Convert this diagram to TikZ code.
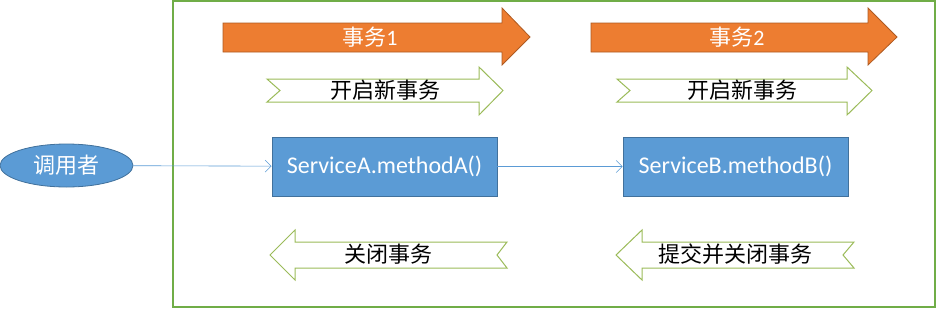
\documentclass[tikz,border=0pt]{standalone}
\usepackage{fontspec}
\newfontfamily\cjk{Noto Sans CJK SC}
\newfontfamily\lat{Carlito}
\usetikzlibrary{shapes.geometric,arrows.meta}
\definecolor{orangeF}{HTML}{ED7D31}
\definecolor{orangeD}{HTML}{AE5A21}
\definecolor{blueF}{HTML}{5B9BD5}
\definecolor{blueD}{HTML}{41719C}
\definecolor{frameG}{HTML}{70AD47}
\definecolor{chevG}{HTML}{9BBB59}
\tikzset{
  frame/.style={draw=frameG, line width=1.2pt},
  bigarrow/.style={fill=orangeF, draw=orangeD, line width=0.8pt},
  chev/.style={fill=white, draw=chevG, line width=1pt},
  svcbox/.style={rectangle, fill=blueF, draw=blueD, line width=0.8pt, minimum width=225pt, minimum height=59pt, inner sep=0pt, text=white, font=\lat\fontsize{24}{28}\selectfont},
  caller/.style={ellipse, fill=blueF, draw=blueD, line width=0.8pt, minimum width=133pt, minimum height=43pt, inner sep=0pt, text=white, font=\cjk\fontsize{22}{26}\selectfont},
  wlabel/.style={text=white, inner sep=0pt, font=\cjk\fontsize{22}{26}\selectfont},
  blabel/.style={text=black, inner sep=0pt, font=\cjk\fontsize{22}{26}\selectfont},
  conn/.style={draw=blueF, line width=0.6pt, -{Straight Barb[length=6pt,width=12pt]}}
}
\begin{document}
\begin{tikzpicture}[x=1pt,y=-1pt]
\useasboundingbox (0,0) rectangle (940,308);
% frame
\draw[frame] (173,1) rectangle (935,307);
% orange arrows
\draw[bigarrow] (223,23)--(502,23)--(502,8)--(530,37)--(502,65)--(502,52)--(223,52)--cycle;
\draw[bigarrow] (591,23)--(868,23)--(868,8)--(897,37)--(868,65)--(868,52)--(591,52)--cycle;
\node[wlabel] (t1) at (370,37) {事务{\lat 1}};
\node[wlabel] (t2) at (737,37) {事务{\lat 2}};
% right chevron arrows
\draw[chev] (267,79)--(479,79)--(479,67)--(503,90.5)--(479,115)--(479,102)--(267,102)--(280,90.5)--cycle;
\draw[chev] (617,79)--(847,79)--(847,67)--(872,90.5)--(847,115)--(847,102)--(617,102)--(630,90.5)--cycle;
\node[blabel] (o1) at (385,90) {开启新事务};
\node[blabel] (o2) at (742,90) {开启新事务};
% left chevron arrows
\draw[chev] (270,255)--(295,230)--(295,242)--(507,242)--(497,255)--(507,268)--(295,268)--(295,280)--cycle;
\draw[chev] (616,255)--(642,230)--(642,242)--(854,242)--(843,255)--(854,268)--(642,268)--(642,280)--cycle;
\node[blabel] (c1) at (388,254) {关闭事务};
\node[blabel] (c2) at (735,254) {提交并关闭事务};
% nodes
\node[caller] (caller) at (66.5,165.5) {调用者};
\node[svcbox] (sa) at (384.5,166.5) {ServiceA.methodA()};
\node[svcbox] (sb) at (735.5,166.5) {ServiceB.methodB()};
% connectors
\draw[conn] (caller) -- (sa);
\draw[conn] (sa) -- (sb);
\end{tikzpicture}
\end{document}
